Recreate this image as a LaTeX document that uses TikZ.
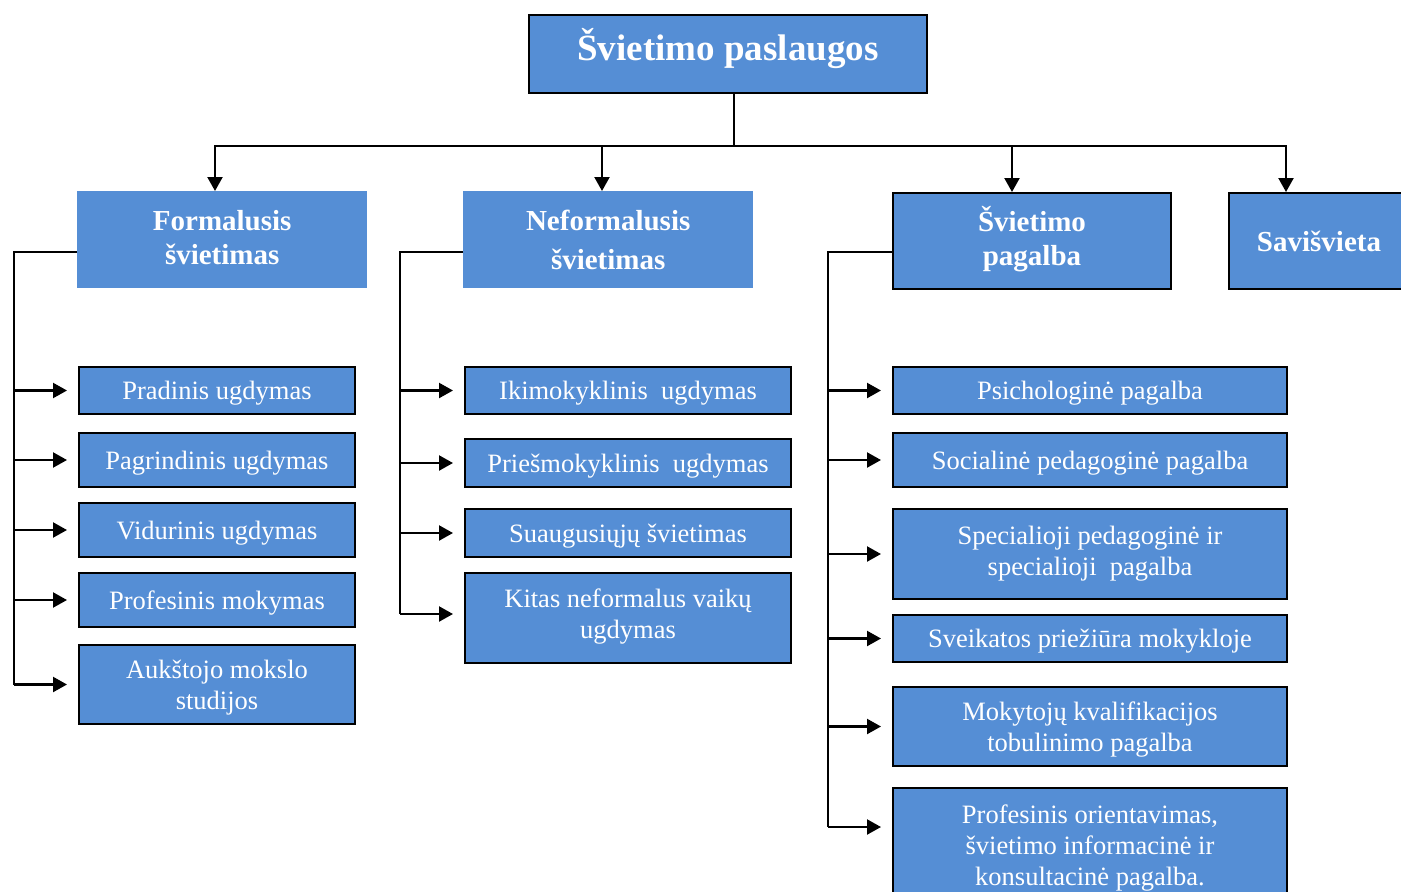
\documentclass[tikz,border=0pt]{standalone}
\usepackage{fontspec}
\setmainfont{Liberation Serif}
\usetikzlibrary{arrows.meta,calc}
\definecolor{boxblue}{HTML}{558ED5}
\newcommand\lowr{\rule{0pt}{24pt}}
\tikzset{
  box/.style={anchor=north west, fill=boxblue, text=white, align=center, inner sep=0pt, draw=black, line width=2pt},
  nobox/.style={anchor=north west, fill=boxblue, text=white, align=center, inner sep=0pt},
  sub/.style={font=\fontsize{26.5}{31}\selectfont},
  mid/.style={font=\fontsize{29}{34}\selectfont\bfseries},
  conn/.style={line width=2.2pt},
  arr/.style={line width=2.2pt, -{Triangle[length=14pt,width=15pt]}, shorten >=11pt},
  darr/.style={line width=2.2pt, -{Triangle[length=14pt,width=15pt]}},
}
\begin{document}
\begin{tikzpicture}[x=1pt,y=-1pt]
\useasboundingbox (0,0) rectangle (1401,892);
% top
\node[box, minimum width=398pt, minimum height=78pt, font=\fontsize{37}{42}\selectfont\bfseries] (top) at (528,14) {Švietimo paslaugos\rule[-20pt]{0pt}{0pt}};
% second level
\node[nobox, mid, minimum width=290pt, minimum height=97pt] (form) at (77,191) {Formalusis\\švietimas\rule[-4pt]{0pt}{0pt}};
\node[nobox, mid, minimum width=290pt, minimum height=97pt, font=\fontsize{29}{39}\selectfont\bfseries] (neform) at (463,191) {Neformalusis\\švietimas};
\node[box, mid, minimum width=278pt, minimum height=96pt] (pag) at (892,192) {Švietimo\\pagalba\rule[-11pt]{0pt}{0pt}};
\node[box, mid, minimum width=180pt, minimum height=96pt] (sav) at (1228,192) {Savišvieta};
% column 1
\node[box, sub, minimum width=276pt, minimum height=47pt] (c1a) at (78,366) {\lowr Pradinis ugdymas};
\node[box, sub, minimum width=276pt, minimum height=54pt] (c1b) at (78,432) {\lowr Pagrindinis ugdymas};
\node[box, sub, minimum width=276pt, minimum height=54pt] (c1c) at (78,502) {\lowr Vidurinis ugdymas};
\node[box, sub, minimum width=276pt, minimum height=54pt] (c1d) at (78,572) {\lowr Profesinis mokymas};
\node[box, sub, minimum width=276pt, minimum height=79pt] (c1e) at (78,644) {\lowr Aukštojo mokslo\\studijos};
% column 2
\node[box, sub, minimum width=326pt, minimum height=47pt] (c2a) at (464,366) {\lowr Ikimokyklinis\ \ ugdymas};
\node[box, sub, minimum width=326pt, minimum height=48pt] (c2b) at (464,438) {\lowr Priešmokyklinis\ \ ugdymas};
\node[box, sub, minimum width=326pt, minimum height=48pt] (c2c) at (464,508) {\lowr Suaugusiųjų švietimas};
\node[box, sub, minimum width=326pt, minimum height=90pt] (c2d) at (464,572) {Kitas neformalus vaikų\\ugdymas\strut};
% column 3
\node[box, sub, minimum width=394pt, minimum height=47pt] (c3a) at (892,366) {\lowr Psichologinė pagalba};
\node[box, sub, minimum width=394pt, minimum height=54pt] (c3b) at (892,432) {\lowr Socialinė pedagoginė pagalba};
\node[box, sub, minimum width=394pt, minimum height=90pt] (c3c) at (892,508) {Specialioji pedagoginė ir\\specialioji\ \ pagalba};
\node[box, sub, minimum width=394pt, minimum height=47pt] (c3d) at (892,614) {\lowr Sveikatos priežiūra mokykloje};
\node[box, sub, minimum width=394pt, minimum height=79pt] (c3e) at (892,686) {\lowr Mokytojų kvalifikacijos\\tobulinimo pagalba};
\node[box, sub, minimum width=394pt, minimum height=114pt] (c3f) at (892,787) {\lowr Profesinis orientavimas,\\švietimo informacinė ir\\konsultacinė pagalba.};
% top connectors
\coordinate (j) at (734,146);
\draw[conn] (j |- top.south) -- (j);
\draw[darr] (j) -| ([xshift=138pt]form.north west);
\draw[darr] (j) -| ([xshift=139pt]neform.north west);
\draw[darr] (j) -| ([xshift=120pt]pag.north west);
\draw[darr] (j) -| ([xshift=58pt]sav.north west);
% column 1 connectors
\coordinate (f1) at (14,252);
\draw[conn] (form.west |- f1) -- (f1) -- (f1 |- c1e.west);
\foreach \n in {c1a,c1b,c1c,c1d,c1e} \draw[arr] (f1 |- \n.west) -- (\n.west);
% column 2 connectors
\coordinate (f2) at (400,252);
\coordinate (kd) at ([yshift=4pt]c2d.west);
\draw[conn] (neform.west |- f2) -- (f2) -- (f2 |- kd);
\foreach \n in {c2a,c2b,c2c} \draw[arr] (f2 |- \n.west) -- (\n.west);
\draw[arr] (f2 |- kd) -- (kd);
% column 3 connectors
\coordinate (f3) at (828,252);
\coordinate (pf) at ([yshift=-40pt]c3f.north west);
\draw[conn] (pag.west |- f3) -- (f3) -- (f3 |- pf);
\foreach \n in {c3a,c3b,c3c,c3d,c3e} \draw[arr] (f3 |- \n.west) -- (\n.west);
\draw[arr] (f3 |- pf) -- (pf);
\end{tikzpicture}
\end{document}
